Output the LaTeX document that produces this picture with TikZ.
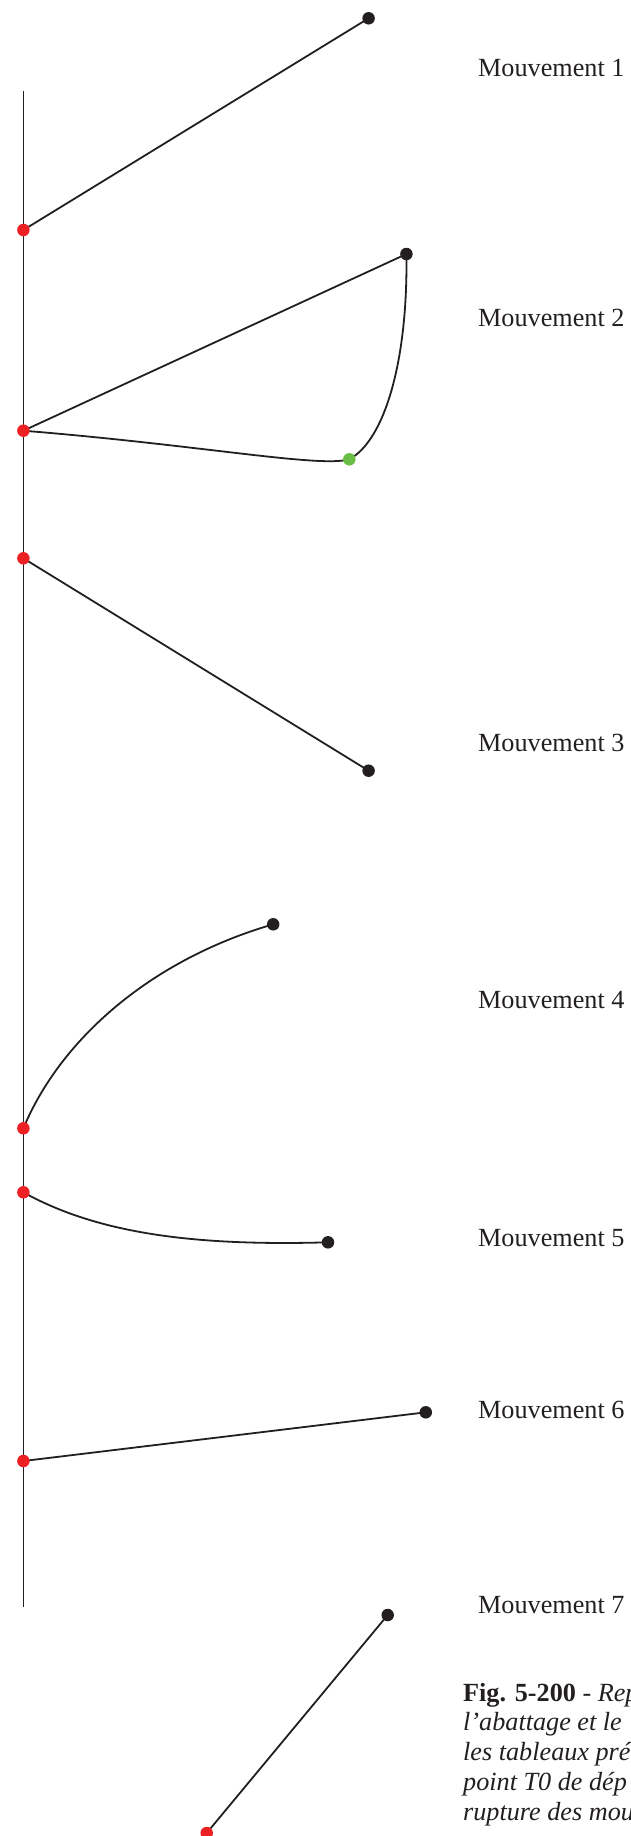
\documentclass[tikz,border=0pt]{standalone}
\usepackage{fontspec}
\setmainfont{Liberation Serif}
\definecolor{dotred}{HTML}{ED2024}
\definecolor{dotgreen}{HTML}{6ABD45}
\definecolor{ink}{HTML}{231F20}
\begin{document}
\begin{tikzpicture}[x=1pt,y=-1pt,
  link/.style={draw=ink,line width=1.8pt},
  dot/.style={circle,inner sep=0pt,minimum size=12.5pt,draw=none},
  blackdot/.style={dot,fill=ink},
  reddot/.style={dot,fill=dotred},
  greendot/.style={dot,fill=dotgreen},
  lbl/.style={anchor=base west,inner sep=0pt,text=ink,font=\fontsize{26.2}{30}\selectfont},
]
\useasboundingbox (0,0) rectangle (631,1836);
% anchor points
\coordinate (axtop) at (23.4,91);
\coordinate (axbot) at (23.4,1607);
\coordinate (r1) at (23.4,230);
\coordinate (b1) at (368.6,18.3);
\coordinate (r2) at (23.4,430.7);
\coordinate (b2) at (406.4,254);
\coordinate (g2) at (349.3,459.3);
\coordinate (r3) at (23.4,558.3);
\coordinate (b3) at (368.6,770.7);
\coordinate (r4) at (23.4,1128.3);
\coordinate (b4) at (273.2,924.3);
\coordinate (r5) at (23.4,1192.3);
\coordinate (b5) at (328,1242.3);
\coordinate (r6) at (23.4,1461);
\coordinate (b6) at (425.8,1412.3);
\coordinate (r7) at (206.7,1833);
\coordinate (b7) at (387.7,1615);
% connectors
\draw[link] (axtop) -- (axbot);
\draw[link] (r1) -- (b1);
\draw[link] (r2) -- (b2);
\draw[link] (b2) .. controls (408,360) and (385,440) .. (g2);
\draw[link] (r2) .. controls (200,445) and (320,468) .. (g2);
\draw[link] (r3) -- (b3);
\draw[link] (r4) .. controls (60,1040) and (150,960) .. (b4);
\draw[link] (r5) .. controls (100,1235) and (200,1246) .. (b5);
\draw[link] (r6) -- (b6);
\draw[link] (r7) -- (b7);
% dots
\node[reddot] (R1) at (r1) {};
\node[blackdot] (B1) at (b1) {};
\node[reddot] (R2) at (r2) {};
\node[blackdot] (B2) at (b2) {};
\node[greendot] (G2) at (g2) {};
\node[reddot] (R3) at (r3) {};
\node[blackdot] (B3) at (b3) {};
\node[reddot] (R4) at (r4) {};
\node[blackdot] (B4) at (b4) {};
\node[reddot] (R5) at (r5) {};
\node[blackdot] (B5) at (b5) {};
\node[reddot] (R6) at (r6) {};
\node[blackdot] (B6) at (b6) {};
\node[reddot] (R7) at (r7) {};
\node[blackdot] (B7) at (b7) {};
% labels
\node[lbl] (m1) at (478,77) {Mouvement 1};
\node[lbl] (m2) at (478,326) {Mouvement 2};
\node[lbl] (m3) at (478,751.7) {Mouvement 3};
\node[lbl] (m4) at (478,1008.3) {Mouvement 4};
\node[lbl] (m5) at (478,1246.7) {Mouvement 5};
\node[lbl] (m6) at (478,1418.3) {Mouvement 6};
\node[lbl] (m7) at (478,1613) {Mouvement 7};
% caption
\node[lbl] (cap1) at (463,1701) {\textbf{Fig. 5-200} - \textit{Rep}};
\node[lbl] (cap2) at (463,1730.8) {\textit{l’abattage et le}};
\node[lbl] (cap3) at (463,1760.6) {\textit{les tableaux pré}};
\node[lbl] (cap4) at (463,1790.4) {\textit{point T0 de dép}};
\node[lbl] (cap5) at (463,1820.2) {\textit{rupture des mou}};
\end{tikzpicture}
\end{document}
